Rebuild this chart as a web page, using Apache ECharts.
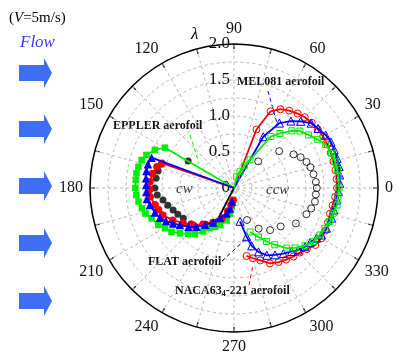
<!DOCTYPE html>
<html><head><meta charset="utf-8">
<script src="https://cdn.jsdelivr.net/npm/echarts@6/dist/echarts.min.js"></script>
<style>html,body{margin:0;padding:0;background:#fff}#c{width:399px;height:356px}</style>
</head><body><div id="c"></div>
<script>
// [azimuth angle (deg), lambda]
const nacaCcw = [[75,0],[69,0.87],[64.5,1.18],[59.5,1.27],[54.5,1.32],[49.5,1.36],[45,1.39],[40,1.41],[35,1.42],[30,1.43],[25,1.43],[20,1.43],[15,1.43],[10,1.43],[5,1.43],[0,1.43],[-5,1.41],[-10,1.39],[-15,1.38],[-20,1.39],[-25,1.40],[-30,1.40],[-35,1.38],[-40,1.32],[-44.5,1.28],[-49,1.26],[-54,1.23],[-59,1.20],[-64.5,1.16],[-70,1.07],[-75,1.01],[-79.5,0.96]];
const melCcw = [[78,0],[60.3,0.82],[55,1.10],[49.6,1.22],[45,1.31],[40,1.40],[35.3,1.43],[30,1.47],[25.4,1.49],[20.8,1.49],[16,1.49],[11.5,1.49],[7,1.48],[2.5,1.47],[-2,1.45],[-6.7,1.44],[-12.4,1.42],[-17.2,1.42],[-23.5,1.40],[-28.2,1.38],[-31.3,1.34],[-35.5,1.30],[-39.6,1.28],[-44,1.24],[-47.8,1.19],[-53,1.14],[-58.5,1.09],[-64,1.04],[-69,0.95],[-73,0.84],[-75.5,0.70],[-79.7,0.47]];
const epplerCcw = [[80,0],[76.6,0.16],[69.8,0.24],[65.2,0.34],[60.3,0.45],[54.4,0.88],[49.9,0.99],[44.7,1.13],[40.8,1.21],[35.5,1.27],[30.3,1.34],[25.4,1.41],[19.6,1.44],[14.6,1.45],[10.2,1.46],[6.2,1.46],[0,1.46],[-4.8,1.45],[-9.4,1.45],[-14.3,1.42],[-19.3,1.41],[-23.9,1.38],[-28.7,1.36],[-34.1,1.33],[-39.2,1.27],[-44.4,1.19],[-48.8,1.11],[-54.3,0.97],[-58.7,0.87],[-63.5,0.76],[-69.9,0.65]];
const flatCcw = [[47.7,0.50],[39.2,0.81],[29.5,0.95],[24.8,1.02],[19.8,1.07],[15.2,1.10],[9.8,1.12],[4.2,1.14],[0,1.15],[-4.5,1.14],[-9.6,1.14],[-14.8,1.11],[-19.9,1.07],[-29.8,0.99],[-39.5,0.84],[-49.4,0.77],[-58.8,0.66],[-67.9,0.48]];

const nacaCw = [[165,0],[161,1.06],[164.6,1.11],[170,1.15],[175.7,1.17],[181,1.17],[186,1.17],[192,1.12],[196,1.09],[200.8,1.06],[207.7,0.96],[214.7,0.86],[222,0.77],[229.5,0.66],[238.5,0.56],[248,0.45],[254.7,0.33],[260,0.24],[266,0.17]];
const melCw = [[160,0],[159.8,1.22],[164.5,1.24],[169,1.24],[173.7,1.23],[178,1.22],[182.6,1.22],[187.2,1.22],[191.4,1.19],[197.2,1.15],[201.9,1.11],[205.9,1.05],[210.2,0.98],[214.4,0.91],[220.3,0.83],[226,0.75],[231.9,0.65],[238.9,0.56],[245.2,0.46],[253.9,0.37],[258.9,0.29],[262,0.19]];
const epplerCw = [[150,0],[149.7,1.11],[154.3,1.22],[159.3,1.30],[163.1,1.34],[167.5,1.36],[171.4,1.37],[175.3,1.37],[180,1.37],[184.1,1.36],[188.1,1.34],[192.4,1.31],[196.1,1.28],[200.2,1.22],[206,1.17],[210.3,1.11],[215,1.06],[220,0.98],[225,0.90],[229.7,0.84],[234.5,0.74],[239.2,0.65],[244,0.60],[249.3,0.55],[257.1,0.46],[261,0.36],[263,0.26],[263.8,0.17]];
const flatCw = [[149.4,0.74],[161.9,1.06],[167.3,1.08],[172.9,1.09],[180,1.10],[185.2,1.07],[189.6,1.00],[194.5,0.95],[199.9,0.90],[205,0.86],[210.9,0.82],[220,0.78],[232,0.64],[242.8,0.53]];
const flatCwLine = [[243,0],[242.8,0.53]];

const radiusTicks = [0, 0.5, 1.0, 1.5, 2.0];
const angleLabels = [0,30,60,90,120,150,180,210,240,270,300,330];

function toAxis(a){ let t=((a%360)+360)%360; if(t<90) t+=360; return t; }
function pts(arr){
  return arr.map(p => p[1] === 0 ? {value:[0, toAxis(p[0])], symbol:'none'} : {value:[p[1], toAxis(p[0])]});
}
const RED='#ff0000', BLUE='#0000ff', GREEN='#00ee00', BLACK='#000000';
function lineSeries(data, color, symbol, size, filled, z, showLine){
  return {
    type:'line', coordinateSystem:'polar', data:pts(data), symbol:symbol, symbolSize:size,
    showAllSymbol:true, silent:true, animation:false, z:z,
    lineStyle: showLine===false ? {width:0, opacity:0} : {color:color, width:1.8},
    itemStyle: filled ? {color:color, borderWidth:0} : {color:'rgba(255,255,255,0)', borderColor:color, borderWidth:1}
  };
}

const chart = echarts.init(document.getElementById('c'), null, {renderer:'canvas'});
const serif = '"Liberation Serif", "Times New Roman", serif';
const arrowYs = [73,129,186,243,301];
const graphics = [];
arrowYs.forEach(cy => graphics.push({type:'polygon', shape:{points:[[19,cy-8],[44,cy-8],[44,cy-15],[52,cy],[44,cy+15],[44,cy+8],[19,cy+8]]}, style:{fill:'#3d6ef5'}}));
graphics.push(
  {type:'text', left:9, top:11, style:{text:'({i|V}=5m/s)', font:'15px '+serif, fill:'#000', rich:{i:{fontStyle:'italic', fontSize:15, fontFamily:'Liberation Serif'}}}},
  {type:'text', left:20, top:34, style:{text:'Flow', font:'italic 17px '+serif, fill:'#3a3af0'}},
  {type:'text', left:191, top:26, style:{text:'λ', font:'italic 17px '+serif, fill:'#000'}},
  {type:'text', left:176, top:182, style:{text:'cw', font:'italic 15px '+serif, fill:'#333'}},
  {type:'text', left:266, top:183, style:{text:'ccw', font:'italic 15px '+serif, fill:'#333'}},
  {type:'text', left:113, top:120, style:{text:'EPPLER aerofoil', font:'bold 12px '+serif, fill:'#111'}},
  {type:'text', left:237, top:76, style:{text:'MEL081 aerofoil', font:'bold 12px '+serif, fill:'#111'}},
  {type:'text', left:148, top:256, style:{text:'FLAT aerofoil', font:'bold 12px '+serif, fill:'#111'}},
  {type:'text', left:175, top:285, style:{text:'NACA63{s|4}-221 aerofoil', font:'bold 12px '+serif, fill:'#111', rich:{s:{fontSize:8, fontWeight:'bold', fontFamily:'Liberation Serif', verticalAlign:'bottom', padding:[5,0,0,0]}}}},
  {type:'line', shape:{x1:190,y1:135,x2:199,y2:163}, style:{stroke:GREEN, lineWidth:1, lineDash:[4,3]}},
  {type:'line', shape:{x1:268,y1:91,x2:277,y2:123}, style:{stroke:BLUE, lineWidth:1, lineDash:[4,3]}},
  {type:'line', shape:{x1:222,y1:261,x2:248,y2:237}, style:{stroke:BLACK, lineWidth:1, lineDash:[4,3]}},
  {type:'line', shape:{x1:249,y1:285,x2:253,y2:265}, style:{stroke:RED, lineWidth:1, lineDash:[4,3]}}
);

chart.setOption({
  animation:false,
  backgroundColor:'#fff',
  polar:{center:[234,188], radius:144},
  angleAxis:{
    type:'value', min:90, max:450, interval:15, startAngle:90, clockwise:false,
    axisLine:{show:true, lineStyle:{color:'#000', width:1.5}},
    axisTick:{show:true, inside:true, length:5, lineStyle:{color:'#000', width:1.2}},
    axisLabel:{margin:7, fontSize:16, fontFamily:'Liberation Serif', color:'#111',
      formatter:v => { const a=v%360; return (v<450 && angleLabels.includes(a)) ? String(a) : ''; }},
    splitLine:{show:true, lineStyle:{color:'#b8b8b8', type:[3,3], width:1}}
  },
  radiusAxis:{
    type:'value', min:0, max:2, interval:0.25,
    axisLine:{show:false}, axisTick:{show:false},
    axisLabel:{show:true, margin:4, fontSize:17, fontFamily:'Liberation Serif', color:'#111',
      formatter:v => { const k = radiusTicks.find(t => Math.abs(t-v)<1e-6); return k===undefined ? '' : (k===0 ? '0' : k.toFixed(1)); }},
    splitLine:{show:true, lineStyle:{color:'#b8b8b8', type:[3,3], width:1}}
  },
  graphic: graphics,
  series:[
    {type:'scatter', coordinateSystem:'polar', data:pts(flatCcw), symbol:'circle', symbolSize:7, silent:true, z:2,
     itemStyle:{color:'rgba(255,255,255,0)', borderColor:BLACK, borderWidth:1}},
    lineSeries(nacaCcw, RED, 'circle', 7, false, 3),
    lineSeries(melCcw, BLUE, 'triangle', 8, false, 4),
    lineSeries(epplerCcw, GREEN, 'rect', 6, false, 5),
    {type:'scatter', coordinateSystem:'polar', data:pts(flatCw), symbol:'circle', symbolSize:7, silent:true, z:2,
     itemStyle:{color:BLACK}},
    lineSeries(flatCwLine, BLACK, 'none', 0, true, 2),
    lineSeries(epplerCw, GREEN, 'rect', 6.5, true, 3),
    lineSeries(nacaCw, RED, 'circle', 7.5, true, 4),
    lineSeries(melCw, BLUE, 'triangle', 8.5, true, 5)
  ]
});
</script></body></html>
